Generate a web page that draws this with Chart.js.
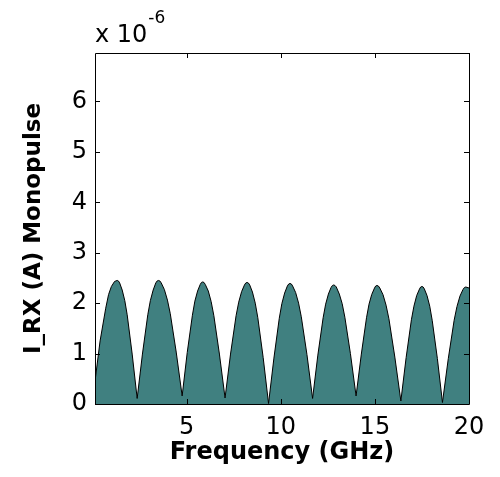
<!DOCTYPE html>
<html>
<head>
<meta charset="utf-8">
<script src="https://cdn.jsdelivr.net/npm/chart.js@4.4.1/dist/chart.umd.min.js"></script>
<style>
html,body{margin:0;padding:0;background:#fff;}
#wrap{width:500px;height:477px;position:relative;}
</style>
</head>
<body>
<div id="wrap"><canvas id="c" width="500" height="477"></canvas></div>
<script>
// Frequency (GHz)
const freqGHz = [
  0.13, 0.40, 0.70, 0.85, 1.00, 1.17, 1.31,
  1.374, 1.44, 1.575, 1.713, 1.84, 2.105, 2.37,
  2.65, 2.935, 3.071, 3.22, 3.36, 3.432, 3.50,
  3.576, 3.65, 3.815, 3.979, 4.13, 4.445, 4.76,
  5.03, 5.305, 5.436, 5.58, 5.72, 5.785, 5.85,
  5.921, 5.99, 6.15, 6.302, 6.445, 6.74, 7.04,
  7.33, 7.625, 7.765, 7.92, 8.07, 8.14, 8.21,
  8.278, 8.35, 8.495, 8.643, 8.78, 9.065, 9.35,
  9.635, 9.92, 10.057, 10.205, 10.35, 10.422, 10.49,
  10.562, 10.63, 10.79, 10.946, 11.09, 11.39, 11.69,
  11.97, 12.25, 12.384, 12.53, 12.67, 12.743, 12.81,
  12.881, 12.95, 13.11, 13.262, 13.405, 13.70, 14.00,
  14.28, 14.555, 14.688, 14.83, 14.98, 15.043, 15.11,
  15.186, 15.26, 15.43, 15.593, 15.745, 16.06, 16.38,
  16.66, 16.94, 17.074, 17.22, 17.37, 17.433, 17.50,
  17.565, 17.63, 17.77, 17.914, 18.045, 18.32, 18.59,
  18.90, 19.21, 19.359, 19.52, 19.68, 19.756, 19.83,
  20.00
];
// I_RX (A) Monopulse, in units of 1e-6 A
const currentE6 = [
  0.45, 1.25, 1.90, 2.17, 2.33, 2.43, 2.45,
  2.44, 2.40, 2.26, 2.05, 1.77, 0.99, 0.11,
  0.99, 1.77, 2.05, 2.26, 2.40, 2.44, 2.45,
  2.44, 2.40, 2.27, 2.06, 1.79, 1.03, 0.16,
  1.02, 1.76, 2.04, 2.24, 2.37, 2.41, 2.42,
  2.41, 2.37, 2.24, 2.03, 1.75, 0.99, 0.12,
  0.99, 1.75, 2.02, 2.23, 2.36, 2.40, 2.41,
  2.40, 2.36, 2.22, 2.00, 1.71, 0.92, 0.01,
  0.91, 1.70, 1.99, 2.20, 2.34, 2.38, 2.39,
  2.38, 2.34, 2.21, 2.00, 1.73, 0.98, 0.11,
  0.97, 1.71, 1.98, 2.18, 2.31, 2.35, 2.36,
  2.35, 2.32, 2.18, 1.99, 1.72, 1.00, 0.16,
  0.99, 1.71, 1.98, 2.17, 2.30, 2.34, 2.35,
  2.34, 2.30, 2.17, 1.96, 1.69, 0.93, 0.06,
  0.92, 1.67, 1.94, 2.15, 2.28, 2.32, 2.33,
  2.32, 2.28, 2.15, 1.94, 1.66, 0.90, 0.03,
  0.90, 1.66, 1.93, 2.14, 2.27, 2.31, 2.32,
  2.30
];
const xTicks = [5, 10, 15, 20];
const yTicks = [0, 1, 2, 3, 4, 5, 6];
const xLimits = [0.13, 20];
const yLimits = [0, 6.96];

const points = freqGHz.map((f, i) => ({x: f, y: currentE6[i]}));

const boxPlugin = {
  id: 'box',
  afterDraw(chart) {
    const {ctx, chartArea: a, scales} = chart;
    ctx.save();
    ctx.strokeStyle = '#000';
    ctx.lineWidth = 1;
    ctx.beginPath();
    ctx.rect(Math.round(a.left) + 0.5, Math.round(a.top) + 0.5,
             Math.round(a.right - a.left), Math.round(a.bottom - a.top));
    ctx.stroke();
    const tl = 5;
    ctx.beginPath();
    xTicks.forEach(v => {
      const px = Math.round(scales.x.getPixelForValue(v)) + 0.5;
      ctx.moveTo(px, a.bottom); ctx.lineTo(px, a.bottom - tl);
      ctx.moveTo(px, a.top); ctx.lineTo(px, a.top + tl);
    });
    yTicks.forEach(v => {
      const py = Math.round(scales.y.getPixelForValue(v)) + 0.5;
      ctx.moveTo(a.left, py); ctx.lineTo(a.left + tl, py);
      ctx.moveTo(a.right, py); ctx.lineTo(a.right - tl, py);
    });
    ctx.stroke();
    // exponent label
    ctx.fillStyle = '#000';
    ctx.textBaseline = 'alphabetic';
    ctx.textAlign = 'left';
    ctx.font = '24px "DejaVu Sans"';
    ctx.fillText('x 10', a.left, a.top - 11);
    const w = ctx.measureText('x 10').width;
    ctx.font = '17px "DejaVu Sans"';
    ctx.fillText('-6', a.left + w + 1, a.top - 30);
    ctx.restore();
  }
};

new Chart(document.getElementById('c'), {
  type: 'line',
  data: {
    datasets: [{
      data: points,
      borderColor: '#000',
      borderWidth: 1,
      backgroundColor: '#408080',
      fill: 'origin',
      pointRadius: 0,
      tension: 0
    }]
  },
  options: {
    responsive: false,
    animation: false,
    devicePixelRatio: 1,
    layout: {padding: {left: 0, top: 53, right: 31, bottom: 0}},
    plugins: {legend: {display: false}, tooltip: {enabled: false}},
    scales: {
      x: {
        type: 'linear',
        min: xLimits[0], max: xLimits[1],
        afterBuildTicks: s => { s.ticks = xTicks.map(v => ({value: v})); },
        afterFit: s => { s.height = 73; },
        grid: {display: false, drawTicks: false},
        border: {display: false},
        ticks: {
          color: '#000', padding: 9, maxRotation: 0, autoSkip: false,
          font: {family: '"DejaVu Sans"', size: 24}
        },
        title: {
          display: true, text: 'Frequency (GHz)', color: '#000',
          font: {family: '"DejaVu Sans"', size: 24, weight: 'bold'},
          padding: {top: 0, bottom: 10}
        }
      },
      y: {
        type: 'linear',
        min: yLimits[0], max: yLimits[1],
        afterBuildTicks: s => { s.ticks = yTicks.map(v => ({value: v})); },
        afterFit: s => { s.width = 95; },
        grid: {display: false, drawTicks: false},
        border: {display: false},
        ticks: {
          color: '#000', padding: 8, autoSkip: false,
          font: {family: '"DejaVu Sans"', size: 24}
        },
        title: {
          display: true, text: 'I_RX (A) Monopulse', color: '#000',
          font: {family: '"DejaVu Sans"', size: 23, weight: 'bold'},
          padding: {top: 20, bottom: 0}
        }
      }
    }
  },
  plugins: [boxPlugin]
});
</script>
</body>
</html>
